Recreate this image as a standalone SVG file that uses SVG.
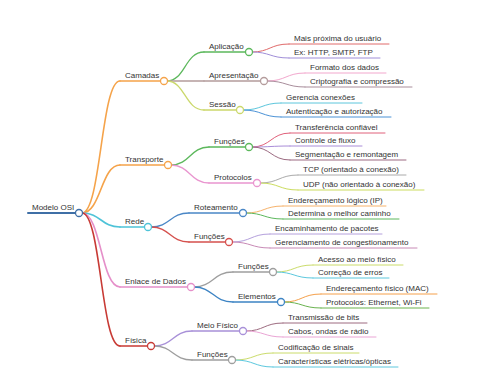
<svg xmlns="http://www.w3.org/2000/svg" width="480" height="384" viewBox="0 0 480 384">
<style>
text{font-family:"Liberation Sans",Arial,sans-serif;font-size:8px;fill:#333}
path,line{fill:none;stroke-linecap:round}
.l1{stroke-width:1.6}
.l2{stroke-width:1.3}
.l3{stroke-width:1}
circle{fill:#fff;stroke-width:1.3}
</style>
<rect width="480" height="384" fill="#fff"/>
<g id="connectors">
<path class="l1" stroke="#f5a34a" d="M82,213 C101,213 101,81 120,81"/>
<path class="l1" stroke="#f5a34a" d="M82,213 C101,213 101,165 120,165"/>
<path class="l1" stroke="#4ec3d8" d="M82,213 C101,213 101,227 120,227"/>
<path class="l1" stroke="#e58fc9" d="M82,213 C101,213 101,287 120,287"/>
<path class="l1" stroke="#c83a35" d="M82,213 C101,213 101,346 120,346"/>
<path class="l2" stroke="#5cb85c" d="M167,81 C185,81 185,52 204,52"/>
<path class="l2" stroke="#b49c9c" d="M167,81 L204,81"/>
<path class="l2" stroke="#cbd86b" d="M167,81 C185,81 185,110 204,110"/>
<path class="l3" stroke="#e06a6a" d="M252,52 C270,52 270,44 289,44"/>
<path class="l3" stroke="#a08ed8" d="M252,52 C270,52 270,58 289,58"/>
<path class="l3" stroke="#f2a7cd" d="M267,81 C286,81 286,73 305,73"/>
<path class="l3" stroke="#a98e9c" d="M267,81 C286,81 286,87 305,87"/>
<path class="l3" stroke="#5cc6dc" d="M243,110 C262,110 262,103 281,103"/>
<path class="l3" stroke="#4b92d6" d="M243,110 C262,110 262,117 281,117"/>
<path class="l2" stroke="#5cb85c" d="M171,165 C190,165 190,147 209,147"/>
<path class="l2" stroke="#e995cf" d="M171,165 C190,165 190,183 209,183"/>
<path class="l3" stroke="#e0607a" d="M252,147 C271,147 271,133 290,133"/>
<path class="l3" stroke="#a98cd8" d="M252,147 C271,147 271,146 290,146"/>
<path class="l3" stroke="#9c6b82" d="M252,147 C271,147 271,160 290,160"/>
<path class="l3" stroke="#aaaaaa" d="M260,183 C279,183 279,175 298,175"/>
<path class="l3" stroke="#cbdc5e" d="M260,183 C279,183 279,190 298,190"/>
<path class="l2" stroke="#4a87c6" d="M151,227 C170,227 170,213 189,213"/>
<path class="l2" stroke="#d5504d" d="M151,227 C170,227 170,242 189,242"/>
<path class="l3" stroke="#f6b26b" d="M246,213 C264,213 264,206 283,206"/>
<path class="l3" stroke="#5cb85c" d="M246,213 C264,213 264,219 283,219"/>
<path class="l3" stroke="#b4a0dc" d="M232,242 C251,242 251,234 270,234"/>
<path class="l3" stroke="#c88ab6" d="M232,242 C251,242 251,248 270,248"/>
<path class="l2" stroke="#9e9e9e" d="M194,287 C213,287 213,272 233,272"/>
<path class="l2" stroke="#3d84c4" d="M194,287 C213,287 213,302 233,302"/>
<path class="l3" stroke="#cbdc6b" d="M276,272 C294,272 294,265 313,265"/>
<path class="l3" stroke="#5cc8de" d="M276,272 C294,272 294,278 313,278"/>
<path class="l3" stroke="#f5a04a" d="M284,302 C302,302 302,294 321,294"/>
<path class="l3" stroke="#6ab34f" d="M284,302 C302,302 302,308 321,308"/>
<path class="l2" stroke="#a890d8" d="M154,346 C173,346 173,331 192,331"/>
<path class="l2" stroke="#9e9e9e" d="M154,346 C173,346 173,360 192,360"/>
<path class="l3" stroke="#9d6b80" d="M246,331 C264,331 264,323 283,323"/>
<path class="l3" stroke="#eaa5d5" d="M246,331 C264,331 264,337 283,337"/>
<path class="l3" stroke="#cbdc6b" d="M235,360 C254,360 254,353 273,353"/>
<path class="l3" stroke="#5cc8de" d="M235,360 C254,360 254,367 273,367"/>
</g>
<g id="root"><line x1="28" y1="213" x2="79" y2="213" stroke="#3f6fa6" stroke-width="2"/><circle cx="79" cy="213" r="3.5" stroke="#3f6fa6"/><text x="32" y="210">Modelo OSI</text></g>
<g id="camadas"><line class="l1" x1="120" y1="81" x2="164" y2="81" stroke="#f5a34a"/><circle cx="164" cy="81" r="3.5" stroke="#f5a34a"/><text x="125" y="78">Camadas</text></g>
<g id="aplicacao"><line class="l2" x1="204" y1="52" x2="249" y2="52" stroke="#5cb85c"/><circle cx="249" cy="52" r="3.5" stroke="#5cb85c"/><text x="209" y="49">Aplicação</text></g>
<g id="apl-1"><line class="l3" x1="289" y1="44" x2="389" y2="44" stroke="#e06a6a"/><text x="294" y="41">Mais próxima do usuário</text></g>
<g id="apl-2"><line class="l3" x1="289" y1="58" x2="380" y2="58" stroke="#a08ed8"/><text x="294" y="55">Ex: HTTP, SMTP, FTP</text></g>
<g id="apresentacao"><line class="l2" x1="204" y1="81" x2="264" y2="81" stroke="#b49c9c"/><circle cx="264" cy="81" r="3.5" stroke="#b49c9c"/><text x="209" y="78">Apresentação</text></g>
<g id="apr-1"><line class="l3" x1="305" y1="73" x2="386" y2="73" stroke="#f2a7cd"/><text x="310" y="70">Formato dos dados</text></g>
<g id="apr-2"><line class="l3" x1="305" y1="87" x2="412" y2="87" stroke="#a98e9c"/><text x="310" y="84">Criptografia e compressão</text></g>
<g id="sessao"><line class="l2" x1="204" y1="110" x2="240" y2="110" stroke="#cbd86b"/><circle cx="240" cy="110" r="3.5" stroke="#cbd86b"/><text x="209" y="107">Sessão</text></g>
<g id="ses-1"><line class="l3" x1="281" y1="103" x2="362" y2="103" stroke="#5cc6dc"/><text x="286" y="100">Gerencia conexões</text></g>
<g id="ses-2"><line class="l3" x1="281" y1="117" x2="391" y2="117" stroke="#4b92d6"/><text x="286" y="114">Autenticação e autorização</text></g>
<g id="transporte"><line class="l1" x1="120" y1="165" x2="168" y2="165" stroke="#f5a34a"/><circle cx="168" cy="165" r="3.5" stroke="#f5a34a"/><text x="125" y="162">Transporte</text></g>
<g id="tr-funcoes"><line class="l2" x1="209" y1="147" x2="249" y2="147" stroke="#5cb85c"/><circle cx="249" cy="147" r="3.5" stroke="#5cb85c"/><text x="214" y="144">Funções</text></g>
<g id="trf-1"><line class="l3" x1="290" y1="133" x2="385" y2="133" stroke="#e0607a"/><text x="295" y="130">Transferência confiável</text></g>
<g id="trf-2"><line class="l3" x1="290" y1="146" x2="362" y2="146" stroke="#a98cd8"/><text x="295" y="143">Controle de fluxo</text></g>
<g id="trf-3"><line class="l3" x1="290" y1="160" x2="406" y2="160" stroke="#9c6b82"/><text x="295" y="157">Segmentação e remontagem</text></g>
<g id="protocolos"><line class="l2" x1="209" y1="183" x2="257" y2="183" stroke="#e995cf"/><circle cx="257" cy="183" r="3.5" stroke="#e995cf"/><text x="214" y="180">Protocolos</text></g>
<g id="pro-1"><line class="l3" x1="298" y1="175" x2="406" y2="175" stroke="#aaaaaa"/><text x="303" y="172">TCP (orientado à conexão)</text></g>
<g id="pro-2"><line class="l3" x1="298" y1="190" x2="424" y2="190" stroke="#cbdc5e"/><text x="303" y="187">UDP (não orientado à conexão)</text></g>
<g id="rede"><line class="l1" x1="120" y1="227" x2="148" y2="227" stroke="#4ec3d8"/><circle cx="148" cy="227" r="3.5" stroke="#4ec3d8"/><text x="125" y="224">Rede</text></g>
<g id="roteamento"><line class="l2" x1="189" y1="213" x2="243" y2="213" stroke="#4a87c6"/><circle cx="243" cy="213" r="3.5" stroke="#4a87c6"/><text x="194" y="210">Roteamento</text></g>
<g id="rot-1"><line class="l3" x1="283" y1="206" x2="386" y2="206" stroke="#f6b26b"/><text x="288" y="203">Endereçamento lógico (IP)</text></g>
<g id="rot-2"><line class="l3" x1="283" y1="219" x2="399" y2="219" stroke="#5cb85c"/><text x="288" y="216">Determina o melhor caminho</text></g>
<g id="rede-funcoes"><line class="l2" x1="189" y1="242" x2="229" y2="242" stroke="#d5504d"/><circle cx="229" cy="242" r="3.5" stroke="#d5504d"/><text x="194" y="239">Funções</text></g>
<g id="ref-1"><line class="l3" x1="270" y1="234" x2="382" y2="234" stroke="#b4a0dc"/><text x="275" y="231">Encaminhamento de pacotes</text></g>
<g id="ref-2"><line class="l3" x1="270" y1="248" x2="417" y2="248" stroke="#c88ab6"/><text x="275" y="245">Gerenciamento de congestionamento</text></g>
<g id="enlace"><line class="l1" x1="120" y1="287" x2="191" y2="287" stroke="#e58fc9"/><circle cx="191" cy="287" r="3.5" stroke="#e58fc9"/><text x="125" y="284">Enlace de Dados</text></g>
<g id="enl-funcoes"><line class="l2" x1="233" y1="272" x2="273" y2="272" stroke="#9e9e9e"/><circle cx="273" cy="272" r="3.5" stroke="#9e9e9e"/><text x="238" y="269">Funções</text></g>
<g id="enf-1"><line class="l3" x1="313" y1="265" x2="403" y2="265" stroke="#cbdc6b"/><text x="318" y="262">Acesso ao meio físico</text></g>
<g id="enf-2"><line class="l3" x1="313" y1="278" x2="389" y2="278" stroke="#5cc8de"/><text x="318" y="275">Correção de erros</text></g>
<g id="elementos"><line class="l2" x1="233" y1="302" x2="281" y2="302" stroke="#3d84c4"/><circle cx="281" cy="302" r="3.5" stroke="#3d84c4"/><text x="238" y="299">Elementos</text></g>
<g id="ele-1"><line class="l3" x1="321" y1="294" x2="437" y2="294" stroke="#f5a04a"/><text x="326" y="291">Endereçamento físico (MAC)</text></g>
<g id="ele-2"><line class="l3" x1="321" y1="308" x2="429" y2="308" stroke="#6ab34f"/><text x="326" y="305">Protocolos: Ethernet, Wi-Fi</text></g>
<g id="fisica"><line class="l1" x1="120" y1="346" x2="151" y2="346" stroke="#c83a35"/><circle cx="151" cy="346" r="3.5" stroke="#c83a35"/><text x="125" y="343">Física</text></g>
<g id="meio-fisico"><line class="l2" x1="192" y1="331" x2="243" y2="331" stroke="#a890d8"/><circle cx="243" cy="331" r="3.5" stroke="#a890d8"/><text x="197" y="328">Meio Físico</text></g>
<g id="mf-1"><line class="l3" x1="283" y1="323" x2="367" y2="323" stroke="#9d6b80"/><text x="288" y="320">Transmissão de bits</text></g>
<g id="mf-2"><line class="l3" x1="283" y1="337" x2="376" y2="337" stroke="#eaa5d5"/><text x="288" y="334">Cabos, ondas de rádio</text></g>
<g id="fis-funcoes"><line class="l2" x1="192" y1="360" x2="232" y2="360" stroke="#9e9e9e"/><circle cx="232" cy="360" r="3.5" stroke="#9e9e9e"/><text x="197" y="357">Funções</text></g>
<g id="ff-1"><line class="l3" x1="273" y1="353" x2="359" y2="353" stroke="#cbdc6b"/><text x="278" y="350">Codificação de sinais</text></g>
<g id="ff-2"><line class="l3" x1="273" y1="367" x2="398" y2="367" stroke="#5cc8de"/><text x="278" y="364">Características elétricas/ópticas</text></g>
</svg>
